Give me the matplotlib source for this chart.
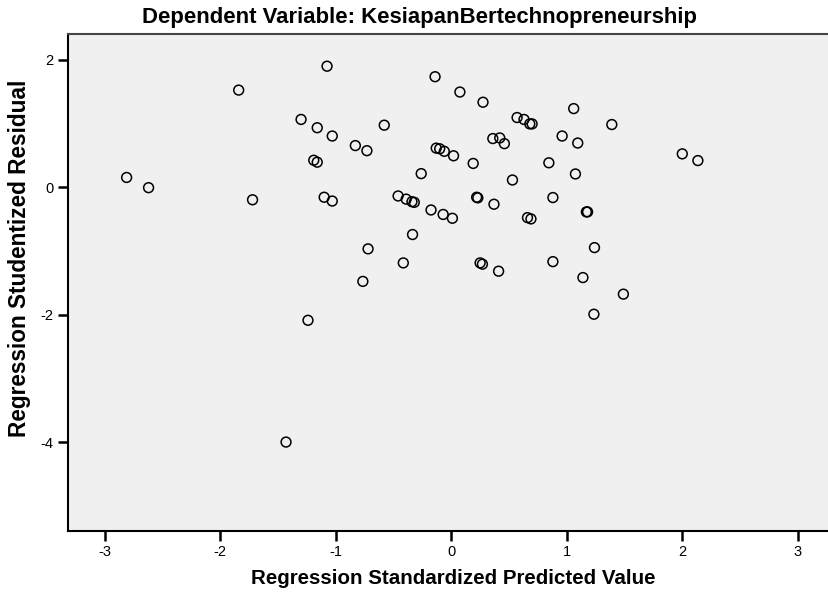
import numpy as np
import matplotlib.pyplot as plt

# regression standardized predicted value
pred = [-2.81, -2.62, -1.84, -1.72, -1.30, -1.24, -1.43, -1.19, -1.16, -1.16,
        -1.10, -1.075, -1.03, -1.03, -0.83, -0.765, -0.73, -0.72, -0.58, -0.46,
        -0.415, -0.39, -0.34, -0.335, -0.32, -0.26, -0.175, -0.14, -0.13, -0.10,
        -0.06, -0.07, 0.01, 0.02, 0.075, 0.19, 0.22, 0.23, 0.25, 0.27,
        0.275, 0.36, 0.37, 0.41, 0.42, 0.46, 0.53, 0.57, 0.63, 0.66,
        0.68, 0.70, 0.69, 0.845, 0.88, 0.88, 0.96, 1.06, 1.075, 1.095,
        1.14, 1.17, 1.18, 1.24, 1.235, 1.39, 1.49, 2.00, 2.135]
# regression studentized residual
resid = [0.15, -0.01, 1.52, -0.20, 1.06, -2.09, -4.00, 0.42, 0.93, 0.39,
         -0.16, 1.895, 0.80, -0.22, 0.65, -1.48, 0.57, -0.97, 0.97, -0.14,
         -1.19, -0.19, -0.23, -0.745, -0.24, 0.21, -0.36, 1.73, 0.61, 0.60,
         0.56, -0.43, -0.49, 0.49, 1.49, 0.37, -0.16, -0.17, -1.19, -1.21,
         1.33, 0.76, -0.27, -1.32, 0.77, 0.68, 0.11, 1.09, 1.06, -0.48,
         0.99, 0.99, -0.50, 0.38, -0.165, -1.17, 0.80, 1.23, 0.205, 0.69,
         -1.42, -0.39, -0.39, -0.95, -1.995, 0.98, -1.68, 0.52, 0.415]

xticks = [-3, -2, -1, 0, 1, 2, 3]
yticks = [-4, -2, 0, 2]

plt.rcParams['font.family'] = ['Liberation Sans', 'DejaVu Sans']

W, H = 829, 594
fig = plt.figure(figsize=(W / 100, H / 100), dpi=100)
ax = fig.add_axes([67.7 / W, 1 - 530.7 / H, 1 - 67.7 / W, (530.7 - 34) / H])
ax.set_facecolor('#f0f0f0')

ax.scatter(pred, resid, s=50, facecolors='none', edgecolors='black', linewidths=1.1, zorder=3)

ax.set_xlim(-3.32, 3.27)
ax.set_ylim(-5.39, 2.40)
ax.set_xticks(xticks)
ax.set_yticks(yticks)
ax.set_xticklabels([str(v) for v in xticks], fontsize=10.5)
ax.set_yticklabels([str(v) for v in yticks], fontsize=10.5)
ax.tick_params(axis='both', direction='out', length=7, width=1.8, color='black', pad=3)

ax.spines['right'].set_visible(False)
ax.spines['top'].set_color('#444444')
ax.spines['top'].set_linewidth(1.5)
ax.spines['left'].set_linewidth(1.5)
ax.spines['bottom'].set_linewidth(1.5)

fig.text(453.5 / W, 1 - 578 / H, 'Regression Standardized Predicted Value',
         ha='center', va='center', fontsize=14.8, fontweight='bold')
fig.text(20 / W, 1 - 258 / H, 'Regression Studentized Residual', rotation=90,
         ha='center', va='center', fontsize=16.3, fontweight='bold')
fig.text(420 / W, 1 - 17 / H, 'Dependent Variable: KesiapanBertechnopreneurship',
         ha='center', va='center', fontsize=15.9, fontweight='bold')

fig.savefig('out.png', dpi=100)
